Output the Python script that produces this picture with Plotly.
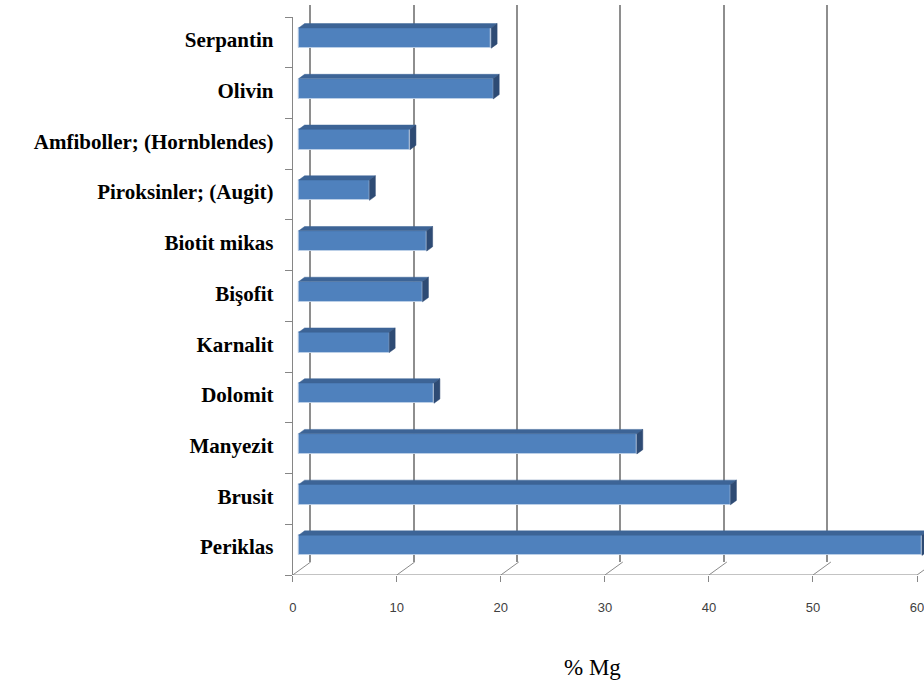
import plotly.graph_objects as go

# Magnesium content of minerals (% Mg)
minerals = ["Periklas", "Brusit", "Manyezit", "Dolomit", "Karnalit", "Bişofit",
            "Biotit mikas", "Piroksinler; (Augit)", "Amfiboller; (Hornblendes)",
            "Olivin", "Serpantin"]
mg_percent = [59.9, 41.5, 32.5, 13.0, 8.7, 11.9, 12.3, 6.8, 10.7, 18.7, 18.5]
value_ticks = [0, 10, 20, 30, 40, 50, 60]

W, H = 924, 700

# front plane of the 3-D box (pixels)
fx0, fx60 = 290, 917
fy0, fy1 = 575, 17
# back wall
bx0, by0, by1 = 308, 562, 5
back_scale = 10.37  # px per unit on the back wall

ux = 60 / (fx60 - fx0)            # value units per px
uy = len(minerals) / (fy0 - fy1)  # category units per px
x_max = (W - fx0) * ux            # front axis runs to the right edge of the page

depth_dx, depth_dy = 18, 13       # full depth offset (px)
d_front = 1 / 3                   # depth where bar front face sits
d_bar = 0.33                      # bar thickness in depth

off_x = depth_dx * d_front * ux
off_y = depth_dy * d_front * uy
ddx = depth_dx * d_bar * ux
ddy = depth_dy * d_bar * uy
half_w = 0.2

ypos = list(range(len(minerals)))

fig = go.Figure()

# back-wall grid (separate subplot drawn underneath)
fig.add_trace(go.Scatter(x=[None], y=[None], xaxis="x", yaxis="y",
                         showlegend=False, hoverinfo="skip"))

# front faces of the bars
fig.add_trace(go.Bar(
    x=mg_percent, y=[p + off_y for p in ypos], base=off_x, orientation="h",
    width=2 * half_w, xaxis="x2", yaxis="y2",
    marker=dict(color="#4F81BD", line=dict(color="rgba(190,208,232,0.9)", width=1)),
    showlegend=False, hoverinfo="skip"))

# top faces
tx, ty = [], []
for p, v in zip(ypos, mg_percent):
    yt = p + off_y + half_w
    tx += [off_x, v + off_x, v + off_x + ddx, off_x + ddx, off_x, None]
    ty += [yt, yt, yt + ddy, yt + ddy, yt, None]
fig.add_trace(go.Scatter(x=tx, y=ty, fill="toself", fillcolor="#3D6496",
                         mode="lines", line=dict(color="#3D6496", width=0.5),
                         xaxis="x2", yaxis="y2", showlegend=False, hoverinfo="skip"))

# side (end) faces
sx, sy = [], []
for p, v in zip(ypos, mg_percent):
    yt = p + off_y + half_w
    yb = p + off_y - half_w
    xe = v + off_x
    sx += [xe, xe + ddx, xe + ddx, xe, xe, None]
    sy += [yt, yt + ddy, yb + ddy, yb, yt, None]
fig.add_trace(go.Scatter(x=sx, y=sy, fill="toself", fillcolor="#2E4B74",
                         mode="lines", line=dict(color="#2E4B74", width=0.5),
                         xaxis="x2", yaxis="y2", showlegend=False, hoverinfo="skip"))

axis_grey = "#868686"
shapes = []
# front bottom axis line, 0 .. 60
shapes.append(dict(type="line", xref="x2", yref="y2",
                   x0=value_ticks[0], y0=-0.5, x1=value_ticks[-1], y1=-0.5,
                   line=dict(color=axis_grey, width=1)))
# floor edges running from the front axis to the back wall
for t in value_ticks:
    shapes.append(dict(type="line", xref="x2", yref="y2",
                       x0=t, y0=-0.5, x1=t + depth_dx * ux, y1=-0.5 + depth_dy * uy,
                       line=dict(color="#8a8a8a", width=1)))
shapes.append(dict(type="line", xref="x2", yref="y2",
                   x0=0, y0=len(minerals) - 0.5, x1=depth_dx * ux,
                   y1=len(minerals) - 0.5 + depth_dy * uy,
                   line=dict(color="#8a8a8a", width=1)))

fig.update_layout(
    width=W, height=H, autosize=False,
    margin=dict(l=0, r=0, t=0, b=0),
    paper_bgcolor="white", plot_bgcolor="rgba(0,0,0,0)",
    bargap=0, showlegend=False,
    shapes=shapes,
    xaxis=dict(domain=[bx0 / W, 1.0], range=[0, (W - bx0) / back_scale],
               anchor="y", showgrid=True, gridcolor="#8e8e8e", gridwidth=1.5,
               tick0=0, dtick=10, showticklabels=False, ticks="",
               zeroline=False, showline=False, fixedrange=True),
    yaxis=dict(domain=[1 - by0 / H, 1 - by1 / H], range=[0, 1], anchor="x",
               showgrid=False, showticklabels=False, ticks="", zeroline=False,
               showline=True, linecolor="#8e8e8e", linewidth=1.5, fixedrange=True),
    xaxis2=dict(domain=[fx0 / W, 1.0], range=[0, x_max], anchor="y2",
                tickvals=value_ticks, ticks="outside", ticklen=6, tickcolor=axis_grey,
                showgrid=False, zeroline=False, showline=False,
                ticklabelstandoff=14, ticklabeloverflow="allow",
                tickfont=dict(family="Liberation Sans, Arial", size=13, color="#404040"),
                fixedrange=True),
    yaxis2=dict(domain=[1 - fy0 / H, 1 - fy1 / H], range=[-0.5, len(minerals) - 0.5],
                anchor="x2", tickvals=[p + 0.05 for p in ypos], ticktext=minerals,
                ticks="", ticklabelstandoff=14,
                minor=dict(tickvals=[p - 0.5 for p in range(len(minerals) + 1)],
                           ticks="outside", ticklen=7, tickcolor=axis_grey),
                showgrid=False, zeroline=False, showline=True, linecolor=axis_grey,
                linewidth=1,
                tickfont=dict(family="Liberation Serif, Times New Roman", size=21,
                              color="black", weight="bold"),
                fixedrange=True),
    annotations=[dict(text="% Mg", xref="paper", yref="paper",
                      x=591 / W, y=1 - 682 / H, showarrow=False,
                      font=dict(family="Liberation Serif, Times New Roman", size=23,
                                color="black"))],
)

fig.write_html("out.html")
